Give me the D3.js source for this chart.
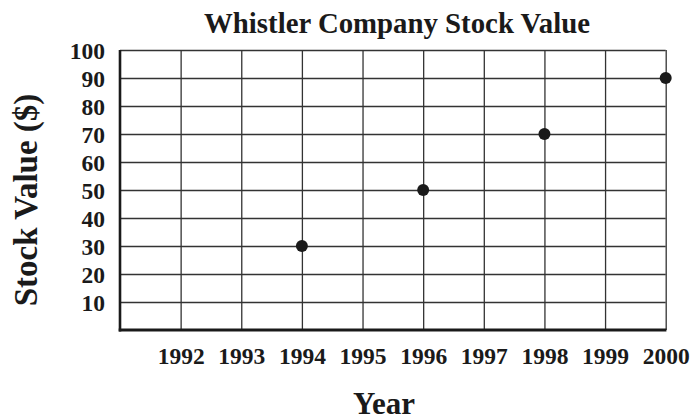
<!DOCTYPE html>
<html>
<head>
<meta charset="utf-8">
<script src="https://cdn.jsdelivr.net/npm/d3@7"></script>
<style>
  body { margin: 0; background: #fff; }
  text { font-family: "Liberation Serif", "Times New Roman", serif; font-weight: bold; fill: #1a1a1a; }
</style>
</head>
<body>
<svg width="691" height="420"></svg>
<script>
// data
var years = [1994, 1996, 1998, 2000];
var values = [30, 50, 70, 90];
var yearTicks = [1992, 1993, 1994, 1995, 1996, 1997, 1998, 1999, 2000];
var valueTicks = [10, 20, 30, 40, 50, 60, 70, 80, 90, 100];

var svg = d3.select("svg");
var margin = {left: 120, right: 25.3, top: 50, bottom: 90};
var width = +svg.attr("width"), height = +svg.attr("height");
var plotW = width - margin.left - margin.right,
    plotH = height - margin.top - margin.bottom;

var x = d3.scaleLinear().domain([1991, 2000]).range([margin.left, margin.left + plotW]);
var y = d3.scaleLinear().domain([0, 100]).range([margin.top + plotH, margin.top]);

// y axis: gridlines + labels
var gy = svg.append("g")
    .attr("transform", "translate(" + margin.left + ",0)")
    .call(d3.axisLeft(y).tickValues(valueTicks).tickSize(-plotW).tickPadding(15));
gy.select(".domain").remove();
gy.selectAll("line").attr("stroke", "#333").attr("stroke-width", 1.3);
gy.selectAll("text").style("font-size", "23.5px").attr("dy", "0.35em");

// x axis: gridlines + labels
var gx = svg.append("g")
    .attr("transform", "translate(0," + (margin.top + plotH) + ")")
    .call(d3.axisBottom(x).tickValues(yearTicks).tickFormat(d3.format("d")).tickSize(-plotH).tickPadding(17));
gx.select(".domain").remove();
gx.selectAll("line").attr("stroke", "#333").attr("stroke-width", 1.3);
gx.selectAll("text").style("font-size", "23.5px");

// heavy axis lines
svg.append("line")
    .attr("x1", margin.left).attr("x2", margin.left)
    .attr("y1", margin.top).attr("y2", margin.top + plotH + 1.5)
    .attr("stroke", "#1a1a1a").attr("stroke-width", 2.6);
svg.append("line")
    .attr("x1", margin.left - 1.3).attr("x2", margin.left + plotW + 0.7)
    .attr("y1", margin.top + plotH).attr("y2", margin.top + plotH)
    .attr("stroke", "#1a1a1a").attr("stroke-width", 3);

// points
svg.append("g")
  .selectAll("circle")
  .data(years)
  .enter().append("circle")
    .attr("cx", function(d){ return x(d) })
    .attr("cy", function(d, i){ return y(values[i]) })
    .attr("r", 6)
    .attr("fill", "#1a1a1a");

// titles
svg.append("text")
    .attr("x", 397).attr("y", 33)
    .attr("text-anchor", "middle")
    .style("font-size", "28.8px")
    .text("Whistler Company Stock Value");

svg.append("text")
    .attr("x", 384).attr("y", 414)
    .attr("text-anchor", "middle")
    .style("font-size", "31px")
    .text("Year");

svg.append("text")
    .attr("transform", "translate(37,200) rotate(-90)")
    .attr("text-anchor", "middle")
    .style("font-size", "33px")
    .text("Stock Value ($)");
</script>
</body>
</html>
